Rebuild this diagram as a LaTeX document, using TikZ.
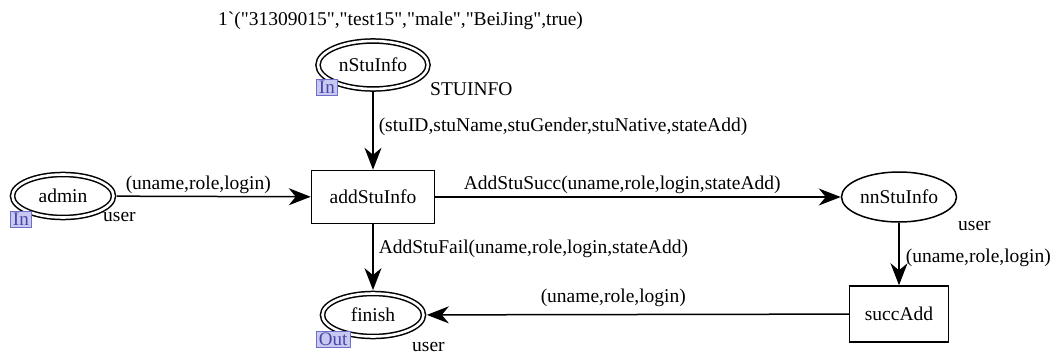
\documentclass[tikz,border=0pt]{standalone}
\usepackage{fontspec}
\setmainfont{Liberation Serif}[Ligatures=TeXOff]
\usetikzlibrary{shapes.geometric,arrows.meta}
\definecolor{tagfill}{RGB}{200,200,240}
\definecolor{tagdraw}{RGB}{110,110,200}
\definecolor{tagtext}{RGB}{70,70,170}
\begin{document}
\begin{tikzpicture}[x=1pt,y=-1pt,
  every node/.append style={font=\fontsize{19.5}{22}\selectfont},
  place/.style={ellipse,draw,line width=1.5pt,inner sep=0pt},
  portplace/.style={place,double,double distance=2.6pt},
  trans/.style={rectangle,draw,line width=1.5pt,inner sep=0pt},
  arc/.style={draw,line width=1.5pt,-{Stealth[length=22pt,width=17pt,inset=7pt]}},
  tag/.style={draw=tagdraw,fill=tagfill,text=tagtext,inner xsep=2.5pt,inner ysep=1pt,text height=13pt,text depth=1pt,font=\fontsize{19}{19}\selectfont,line width=0.9pt},
  lbl/.style={anchor=base west,inner sep=0pt}]
\useasboundingbox (0,0) rectangle (1058,356);

\node[portplace,minimum width=110pt,minimum height=48pt] (nStuInfo) at (373,65) {nStuInfo};
\node[portplace,minimum width=101pt,minimum height=43pt] (admin) at (63,196) {admin};
\node[trans,minimum width=123pt,minimum height=53pt] (addStuInfo) at (373,197) {addStuInfo};
\node[place,minimum width=115pt,minimum height=50pt] (nnStuInfo) at (899,197) {nnStuInfo};
\node[trans,minimum width=99pt,minimum height=56pt] (succAdd) at (899,314) {succAdd};
\node[portplace,minimum width=101pt,minimum height=43pt] (finish) at (373,315) {finish};

\node[tag,anchor=north west] (tagN) at (316,79) {In};
\node[tag,anchor=north west] (tagA) at (10,211) {In};
\node[tag,anchor=north west] (tagF) at (316,331) {Out};

\node[lbl] (init) at (218,25) {1`("31309015","test15","male","BeiJing",true)};
\node[lbl] (typeN) at (430,95) {STUINFO};
\node[lbl] (typeA) at (103,221) {user};
\node[lbl] (typeNN) at (958,230) {user};
\node[lbl] (typeF) at (412,351) {user};

\draw[arc,shorten <=2.6pt] (nStuInfo) -- (addStuInfo)
  node[lbl] (l1) at (378,131) {(stuID,stuName,stuGender,stuNative,stateAdd)};
\draw[arc,shorten <=2.6pt] (admin) -- (addStuInfo)
  node[lbl] (l2) at (125,189) {(uname,role,login)};
\draw[arc] (addStuInfo) -- (nnStuInfo)
  node[lbl] (l3) at (463,189) {AddStuSucc(uname,role,login,stateAdd)};
\draw[arc] (nnStuInfo) -- (succAdd)
  node[lbl] (l4) at (905,262) {(uname,role,login)};
\draw[arc,shorten >=2.6pt] (succAdd) -- (finish)
  node[lbl] (l5) at (540,302) {(uname,role,login)};
\draw[arc,shorten >=2.6pt] (addStuInfo) -- (finish)
  node[lbl] (l6) at (378,253) {AddStuFail(uname,role,login,stateAdd)};
\end{tikzpicture}
\end{document}
